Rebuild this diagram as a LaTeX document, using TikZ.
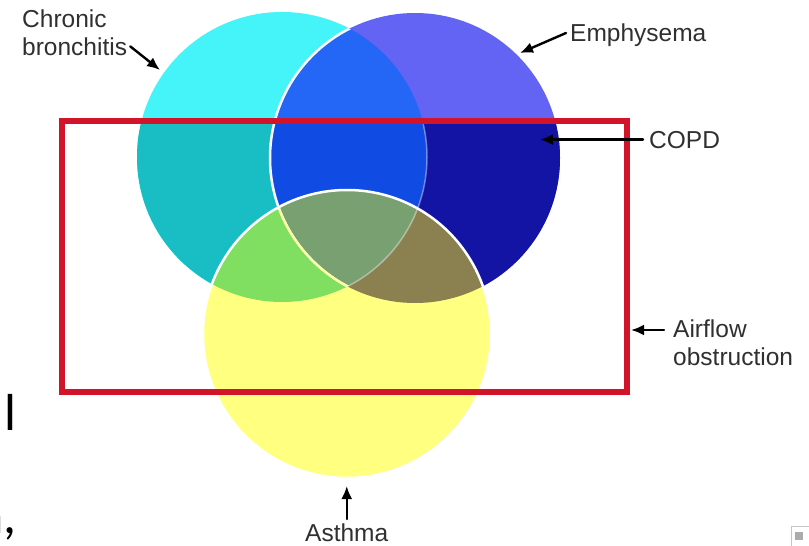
\documentclass[tikz,border=0pt]{standalone}
\usepackage{fontspec}
\setsansfont{Liberation Sans}
\newfontfamily\slidefont{Carlito}
\usetikzlibrary{arrows.meta,calc,positioning}
\definecolor{CyanLight}{HTML}{44F4F8}
\definecolor{CyanDark}{HTML}{18BEC4}
\definecolor{EmphLight}{HTML}{6464F4}
\definecolor{EmphDark}{HTML}{1414A4}
\definecolor{BothLight}{HTML}{2466F6}
\definecolor{BothDark}{HTML}{104CE4}
\definecolor{AsthmaYellow}{HTML}{FFFF80}
\definecolor{AsthmaGreen}{HTML}{80DE60}
\definecolor{AsthmaOlive}{HTML}{8A8050}
\definecolor{AllThree}{HTML}{78A070}
\definecolor{BoxRed}{HTML}{D2142A}
\definecolor{Dark}{HTML}{303030}
\tikzset{
  lbl/.style={font=\sffamily\fontsize{24.5}{28}\selectfont,text=Dark,inner sep=0pt,align=left},
  frag/.style={font=\slidefont\fontsize{52}{60}\selectfont,text=black,inner sep=0pt},
  pointer/.style={-{Latex[length=13pt,width=11pt]},line width=2.4pt,draw=black},
  rim/.style={draw=white,line width=2.5pt},
}

\begin{document}
\begin{tikzpicture}[x=1pt,y=-1pt,line cap=round,line join=round]

% Canvas
\clip (0,0) rectangle (809,546);
\fill[white] (0,0) rectangle (809,546);

% Geometry
\def\cbCircle{(282,157) circle[radius=145]}
\def\emCircle{(415,158) circle[radius=145]}
\def\asCircle{(347,334) circle[radius=144]}

% Bronchitis and emphysema
\fill[CyanLight] \cbCircle;
\fill[EmphLight] \emCircle;
\begin{scope}
  \clip \cbCircle;
  \fill[BothLight] \emCircle;
\end{scope}

% Darker shades inside the box
\begin{scope}
  \clip (62,121) rectangle (627,392);
  \fill[CyanDark] \cbCircle;
  \fill[EmphDark] \emCircle;
  \clip \cbCircle;
  \fill[BothDark] \emCircle;
\end{scope}

% Asthma
\fill[AsthmaYellow] \asCircle;
\begin{scope}
  \clip \asCircle;
  \fill[AsthmaGreen] \cbCircle;
  \fill[AsthmaOlive] \emCircle;
  \clip \cbCircle;
  \fill[AllThree] \emCircle;
\end{scope}

% Rims
\begin{scope}
  \clip \emCircle;
  \clip (0,121) rectangle (809,546);
  \draw[white,opacity=.4,line width=1.5pt] \cbCircle;
\end{scope}
\begin{scope}
  \clip \cbCircle;
  \draw[rim] \emCircle;
\end{scope}
\begin{scope}
  \clip \asCircle;
  \clip \cbCircle;
  \draw[AsthmaYellow!80!white,line width=2pt] \emCircle;
\end{scope}
\draw[rim] \asCircle;

% Airflow obstruction box
\node[draw=BoxRed,line width=6pt,line join=miter,inner sep=0pt,
  minimum width=565pt,minimum height=271pt] (copdBox) at (344.5,256.5) {};

% Labels
\node[lbl,anchor=north west] (lblBron) at (22,10) {Chronic\\bronchitis};
\node[lbl,anchor=base west] (lblEmph) at (570,41) {Emphysema};
\node[lbl,anchor=base west] (lblCopd) at (649,148) {COPD};
\node[lbl,anchor=north west] (lblAir) at (673,320) {Airflow\\obstruction};
\node[lbl,anchor=base west] (lblAsth) at (305,541) {Asthma};

% Arrow tips
\coordinate (tipBron) at (160,70);
\coordinate (tipEmph) at (520,53);
\coordinate (tipCopd) at (540,140);
\coordinate (tipAir) at (631,330);
\coordinate (tipAsth) at (347,486);

% Pointers
\draw[pointer] ([shift={(3,-10)}]lblBron.south east) -- (tipBron);
\draw[pointer] ([shift={(-4,-8)}]lblEmph.base west) -- (tipEmph);
\draw[pointer] ([xshift=-6pt]lblCopd.west) -- (tipCopd |- lblCopd.west);
\draw[pointer] ([shift={(-9,10)}]lblAir.north west) -- (tipAir);
\draw[pointer] ([shift={(0,-4)}]lblAsth.north) -- (tipAsth -| lblAsth.north);

% Cut-off slide text
\node[frag,anchor=base west] (fragL) at (4,430) {l};
\node[frag,anchor=base east] (fragN) at (17,533) {n,};

% Broken image icon
\node[draw=gray!45,line width=1pt,inner sep=0pt,minimum size=20pt,anchor=north west] (brokenImg) at (791,526) {};
\fill[gray!65] ([shift={(4,6)}]brokenImg.north west) rectangle ([shift={(12,14)}]brokenImg.north west);

\end{tikzpicture}
\end{document}
